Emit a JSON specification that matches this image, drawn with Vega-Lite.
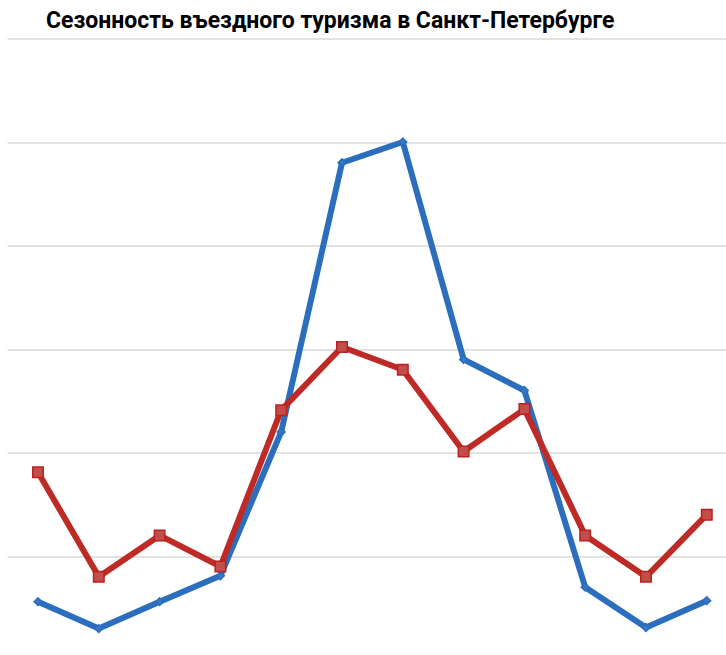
{
  "$schema": "https://vega.github.io/schema/vega-lite/v6.json",
  "width": 719,
  "height": 617,
  "autosize": {"type": "none"},
  "padding": {"left": 7, "top": 38.5, "right": 0, "bottom": 0},
  "background": "white",
  "title": {
    "text": "Сезонность въездного туризма в Санкт-Петербурге",
    "font": "Roboto",
    "fontSize": 23,
    "fontWeight": "bold",
    "color": "#000000",
    "anchor": "start",
    "frame": "group",
    "baseline": "alphabetic",
    "offset": -12,
    "dx": 39
  },
  "config": {"view": {"stroke": null}},
  "data": {
    "values": [
      {"month": 1, "series": "A", "value": 0.56},
      {"month": 2, "series": "A", "value": 0.3},
      {"month": 3, "series": "A", "value": 0.56},
      {"month": 4, "series": "A", "value": 0.81},
      {"month": 5, "series": "A", "value": 2.2},
      {"month": 6, "series": "A", "value": 4.8},
      {"month": 7, "series": "A", "value": 5.0},
      {"month": 8, "series": "A", "value": 2.9},
      {"month": 9, "series": "A", "value": 2.6},
      {"month": 10, "series": "A", "value": 0.7},
      {"month": 11, "series": "A", "value": 0.31},
      {"month": 12, "series": "A", "value": 0.57},
      {"month": 1, "series": "B", "value": 1.81},
      {"month": 2, "series": "B", "value": 0.8},
      {"month": 3, "series": "B", "value": 1.2},
      {"month": 4, "series": "B", "value": 0.9},
      {"month": 5, "series": "B", "value": 2.41},
      {"month": 6, "series": "B", "value": 3.02},
      {"month": 7, "series": "B", "value": 2.8},
      {"month": 8, "series": "B", "value": 2.01},
      {"month": 9, "series": "B", "value": 2.42},
      {"month": 10, "series": "B", "value": 1.2},
      {"month": 11, "series": "B", "value": 0.8},
      {"month": 12, "series": "B", "value": 1.4}
    ]
  },
  "encoding": {
    "x": {"field": "month", "type": "quantitative", "scale": {"domain": [0.49, 12.316], "nice": false, "zero": false}, "axis": null},
    "y": {"field": "value", "type": "quantitative", "scale": {"domain": [0.04, 6], "nice": false, "zero": false},
      "axis": {"values": [1, 2, 3, 4, 5, 6], "labels": false, "ticks": false, "domain": false, "title": null, "grid": true, "gridColor": "#d9d9d9", "gridWidth": 1.5}}
  },
  "layer": [
    {
      "mark": {"type": "line", "strokeWidth": 6, "strokeJoin": "round", "clip": true},
      "encoding": {
        "color": {"field": "series", "type": "nominal", "scale": {"domain": ["A", "B"], "range": ["#2a6ebd", "#be2b27"]}, "legend": null}
      }
    },
    {
      "mark": {"type": "point", "filled": true, "opacity": 1, "strokeWidth": 1.5, "clip": true},
      "encoding": {
        "shape": {"field": "series", "type": "nominal", "scale": {"domain": ["A", "B"], "range": ["diamond", "square"]}, "legend": null},
        "fill": {"field": "series", "type": "nominal", "scale": {"domain": ["A", "B"], "range": ["#3a77c2", "#c24d4a"]}, "legend": null},
        "stroke": {"field": "series", "type": "nominal", "scale": {"domain": ["A", "B"], "range": ["#2a6ebd", "#b8231f"]}, "legend": null},
        "size": {"field": "series", "type": "nominal", "scale": {"domain": ["A", "B"], "range": [60, 110]}, "legend": null}
      }
    }
  ]
}
